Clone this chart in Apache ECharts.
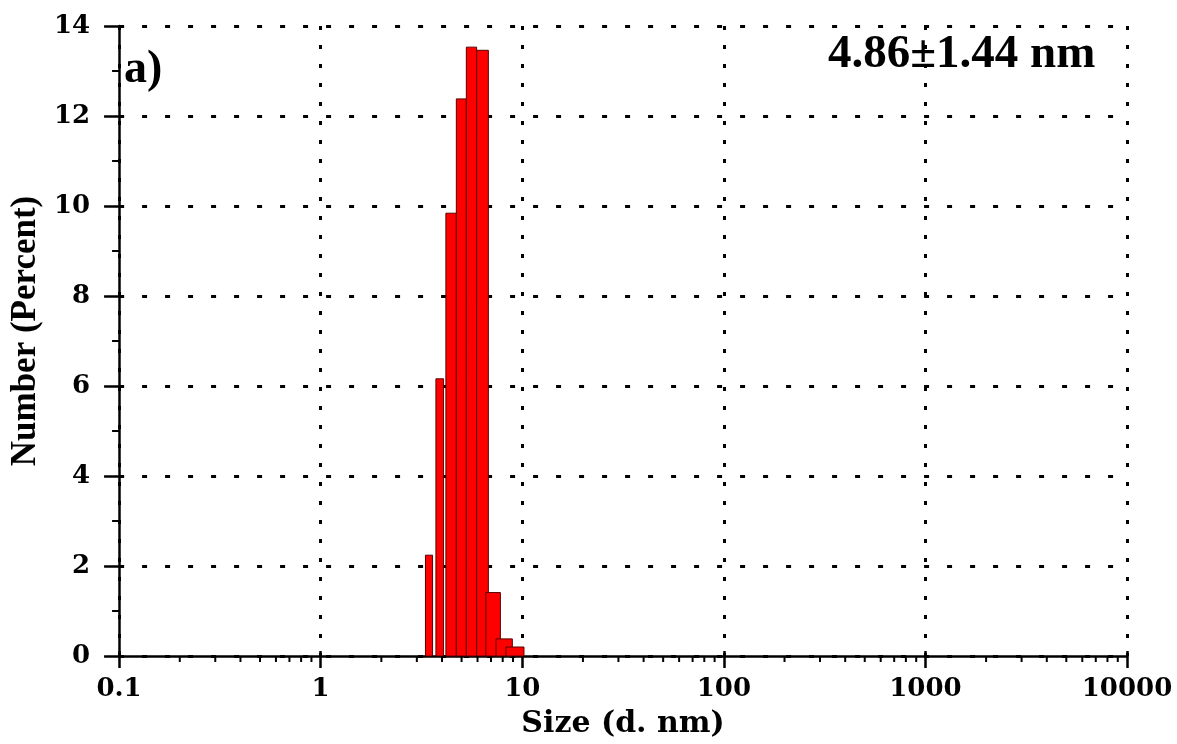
<!DOCTYPE html>
<html>
<head>
<meta charset="utf-8">
<script src="https://cdn.jsdelivr.net/npm/echarts@6/dist/echarts.min.js"></script>
<style>
html,body{margin:0;padding:0;background:#fff;}
#chart{width:1177px;height:744px;}
</style>
</head>
<body>
<div id="chart"></div>
<script>
// Size bins (d. nm): lower and upper edge of each histogram bar
var binLow  = [3.31, 3.73, 4.18, 4.71, 5.28, 5.94, 6.60, 7.41, 8.30];
var binHigh = [3.59, 4.07, 4.71, 5.28, 5.94, 6.79, 7.79, 8.93, 10.2];
// Number (Percent)
var numberPct = [2.24, 6.16, 9.84, 12.38, 13.53, 13.46, 1.41, 0.38, 0.20];
// Minor tick positions of the log x axis
var xMinorTicks = [0.2,0.3,0.4,0.5,0.6,0.7,0.8,0.9,
                   2,3,4,5,6,7,8,9,
                   20,30,40,50,60,70,80,90,
                   200,300,400,500,600,700,800,900,
                   2000,3000,4000,5000,6000,7000,8000,9000];
var xTickLabels = ['0.1','1','10','100','1000','10000'];
var annotation = '4.86\u00b11.44 nm';
var panelLabel = 'a)';

var barData = binLow.map(function(lo, i){ return [lo, binHigh[i], numberPct[i]]; });

var chart = echarts.init(document.getElementById('chart'), null, {renderer:'canvas'});
var tickFont = 'DejaVu Serif';
chart.setOption({
  backgroundColor:'#ffffff',
  animation:false,
  grid:{left:119, right:50, top:26, bottom:85, containLabel:false},
  xAxis:[{
    type:'log', logBase:10, min:0.1, max:10000, position:'bottom',
    name:'Size (d. nm)', nameLocation:'middle', nameGap:53,
    nameTextStyle:{fontFamily:tickFont, fontWeight:'bold', fontSize:30, color:'#000'},
    axisLine:{show:true, onZero:false, lineStyle:{color:'#000', width:2.5}},
    axisTick:{show:true, length:12, lineStyle:{color:'#000', width:2.5}},
    axisLabel:{margin:20, fontFamily:tickFont, fontWeight:'bold', fontSize:26, color:'#000',
      formatter:function(v){
        var idx = Math.round(Math.log10(v)) + 1;
        return xTickLabels[idx] !== undefined ? xTickLabels[idx] : String(v);
      }},
    splitLine:{show:true, lineStyle:{color:'#000', width:3, type:[4,15]}}
  },{
    type:'log', logBase:10, min:0.1, max:10000, position:'bottom', offset:0,
    axisLine:{show:false, onZero:false},
    axisTick:{show:true, inside:true, length:5, lineStyle:{color:'#000', width:2.5}},
    axisLabel:{show:false},
    splitLine:{show:false}
  }],
  yAxis:[{
    type:'value', min:0, max:14, interval:2, position:'left',
    name:'Number (Percent)', nameLocation:'middle', nameGap:74,
    nameTextStyle:{fontFamily:'Liberation Serif', fontWeight:'bold', fontSize:35, color:'#000', padding:[0,0,0,20]},
    axisLine:{show:true, onZero:false, lineStyle:{color:'#000', width:2.5}},
    axisTick:{show:true, length:15, lineStyle:{color:'#000', width:2.5}},
    minorTick:{show:true, splitNumber:2, length:7, lineStyle:{color:'#000', width:2}},
    axisLabel:{margin:29, fontFamily:tickFont, fontWeight:'bold', fontSize:26, color:'#000'},
    splitLine:{show:true, lineStyle:{color:'#000', width:3, type:[5,18]}}
  },{
    type:'value', min:0, max:14, interval:2, position:'left', offset:0,
    axisLine:{show:false, onZero:false},
    axisTick:{show:true, inside:true, length:5, lineStyle:{color:'#000', width:2.5}},
    axisLabel:{show:false},
    splitLine:{show:false}
  }],
  series:[
    {
      type:'custom', name:'Number', clip:false, z:3,
      xAxisIndex:0, yAxisIndex:0,
      data:barData,
      encode:{x:[0,1], y:2},
      renderItem:function(params, api){
        var p0 = api.coord([api.value(0), api.value(2)]);
        var p1 = api.coord([api.value(1), 0]);
        return {
          type:'rect',
          shape:{x:p0[0], y:p0[1], width:p1[0]-p0[0], height:p1[1]-p0[1]},
          style:{fill:'#ff0000', stroke:'#5a0000', lineWidth:1}
        };
      }
    },
    {
      type:'custom', name:'minorTicks', clip:false, z:4, silent:true,
      xAxisIndex:0, yAxisIndex:0,
      data:xMinorTicks.map(function(v){ return [v, 0]; }),
      encode:{x:0, y:1},
      renderItem:function(params, api){
        var p = api.coord([api.value(0), 0]);
        return {
          type:'line',
          shape:{x1:p[0], y1:p[1], x2:p[0], y2:p[1]+6},
          style:{stroke:'#000', lineWidth:2}
        };
      }
    }
  ],
  graphic:[
    {type:'text', x:124, y:47, z:10,
     style:{text:panelLabel, font:'bold 46px "Liberation Serif"', fill:'#000'}},
    {type:'text', x:828, y:31, z:10,
     style:{text:annotation, font:'bold 47px "Liberation Serif"', fill:'#000'}}
  ]
});
</script>
</body>
</html>
